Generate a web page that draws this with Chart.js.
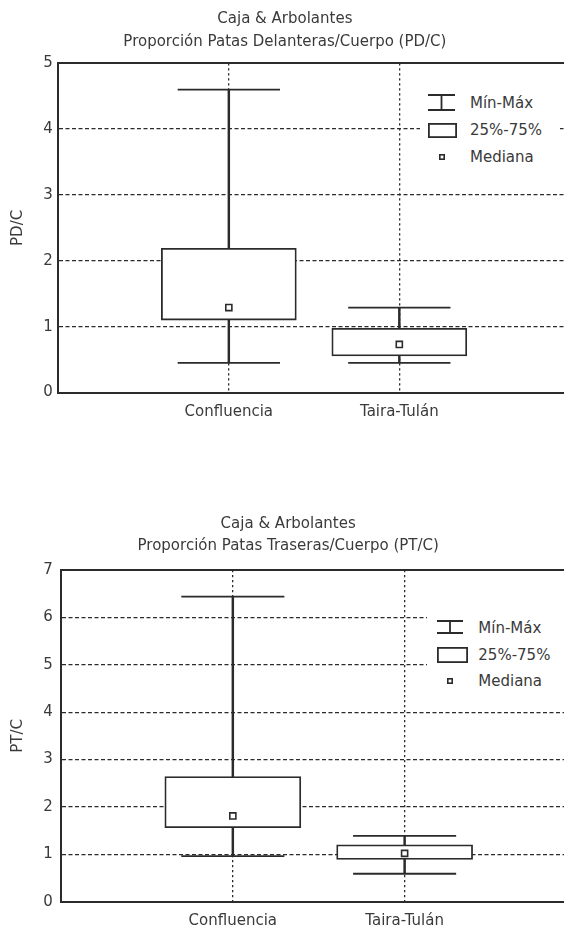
<!DOCTYPE html>
<html>
<head>
<meta charset="utf-8">
<script src="https://cdn.jsdelivr.net/npm/chart.js@4"></script>
<style>
  html, body { margin: 0; padding: 0; background: #fff; }
  body { width: 564px; height: 929px; overflow: hidden; position: relative; font-family: 'DejaVu Sans', sans-serif; color: #3a3a3a; }
  .wrap { position: absolute; left: 0; }
  .legend { position: absolute; background: #fff; }
  .legend .item { position: absolute; font-size: 15px; line-height: 18px; white-space: nowrap; }
  .legend svg { position: absolute; overflow: visible; }
</style>
</head>
<body>

<div class="wrap" style="top:0; width:615px; height:432px;"><canvas id="chartPD"></canvas></div>
<div class="wrap" style="top:495px; width:615px; height:436px;"><canvas id="chartPT"></canvas></div>

<!-- leyenda grafico 1 -->
<div class="legend" style="left:420px; top:86px; width:140px; height:80px;">
  <svg style="left:8px; top:8px;" width="27" height="17"><path d="M0 1H27M0 16H27M13.5 1V16" stroke="#2b2b2b" stroke-width="1.8" fill="none"/></svg>
  <div class="item" style="left:50px; top:8px;">Mín-Máx</div>
  <svg style="left:8px; top:37px;" width="29" height="15"><rect x="0.9" y="0.9" width="27.2" height="13.2" stroke="#2b2b2b" stroke-width="1.8" fill="#fff"/></svg>
  <div class="item" style="left:50px; top:35px;">25%-75%</div>
  <svg style="left:18.7px; top:68px;" width="6" height="6"><rect x="0.8" y="0.8" width="4.4" height="4.4" stroke="#2b2b2b" stroke-width="1.6" fill="#fff"/></svg>
  <div class="item" style="left:50px; top:61.7px;">Mediana</div>
</div>

<!-- leyenda grafico 2 -->
<div class="legend" style="left:427px; top:608px; width:137px; height:86px;">
  <svg style="left:9.7px; top:12px;" width="26" height="14"><path d="M0 1H26M0 13H26M13 1V13" stroke="#2b2b2b" stroke-width="1.8" fill="none"/></svg>
  <div class="item" style="left:51.3px; top:11.3px;">Mín-Máx</div>
  <svg style="left:9.7px; top:39px;" width="31" height="16"><rect x="0.9" y="0.9" width="29.2" height="14.2" stroke="#2b2b2b" stroke-width="1.8" fill="#fff"/></svg>
  <div class="item" style="left:51.3px; top:38px;">25%-75%</div>
  <svg style="left:20px; top:70px;" width="6" height="6"><rect x="0.8" y="0.8" width="4.4" height="4.4" stroke="#2b2b2b" stroke-width="1.6" fill="#fff"/></svg>
  <div class="item" style="left:51.3px; top:63.7px;">Mediana</div>
</div>

<script>
// categorias (eje x)
const categories = ['Confluencia', 'Taira-Tulán'];

// Proporcion Patas Delanteras/Cuerpo (PD/C)
const pdTitle = ['Caja & Arbolantes', 'Proporción Patas Delanteras/Cuerpo (PD/C)'];
const pdMin    = [0.45, 0.45];
const pdQ1     = [1.10, 0.555];
const pdMedian = [1.29, 0.73];
const pdQ3     = [2.19, 0.975];
const pdMax    = [4.60, 1.29];
const pdTicks  = [0, 1, 2, 3, 4, 5];

// Proporcion Patas Traseras/Cuerpo (PT/C)
const ptTitle = ['Caja & Arbolantes', 'Proporción Patas Traseras/Cuerpo (PT/C)'];
const ptMin    = [0.96, 0.59];
const ptQ1     = [1.56, 0.89];
const ptMedian = [1.81, 1.02];
const ptQ3     = [2.64, 1.20];
const ptMax    = [6.44, 1.39];
const ptTicks  = [0, 1, 2, 3, 4, 5, 6, 7];

const INK = '#2b2b2b';
const TEXT = '#3a3a3a';
const CAP_HALF = 0.3;   // medio ancho de los topes, en unidades del eje x

Chart.defaults.font.family = "'DejaVu Sans', sans-serif";
Chart.defaults.font.size = 15;
Chart.defaults.color = TEXT;

function makeBoxChart(canvasId, s) {
  const ctx = document.getElementById(canvasId);
  const yMax = s.ticks[s.ticks.length - 1];
  const xs = categories.map((c, i) => i + 1);

  // topes min/max como segmentos cortos, cortados con null
  const capPoints = [];
  xs.forEach((x, i) => {
    [s.max[i], s.min[i]].forEach(v => {
      capPoints.push({ x: x - CAP_HALF, y: v });
      capPoints.push({ x: x + CAP_HALF, y: v });
      capPoints.push({ x: x, y: null });
    });
  });

  return new Chart(ctx, {
    type: 'bar',
    data: {
      datasets: [
        {
          // linea vertical min-max
          type: 'bar',
          data: xs.map((x, i) => ({ x: x, y: [s.min[i], s.max[i]] })),
          backgroundColor: INK,
          borderWidth: 0,
          barThickness: 1.8,
          grouped: false,
          order: 3
        },
        {
          // caja 25%-75%
          type: 'bar',
          data: xs.map((x, i) => ({ x: x, y: [s.q1[i], s.q3[i]] })),
          backgroundColor: '#ffffff',
          borderColor: INK,
          borderWidth: 1.8,
          borderSkipped: false,
          barThickness: s.boxWidth,
          grouped: false,
          order: 2
        },
        {
          // topes min / max
          type: 'line',
          data: capPoints,
          borderColor: INK,
          borderWidth: 1.8,
          pointRadius: 0,
          spanGaps: false,
          fill: false,
          order: 1
        },
        {
          // mediana
          type: 'scatter',
          data: xs.map((x, i) => ({ x: x, y: s.median[i] })),
          pointStyle: 'rect',
          pointRadius: 4.3,
          pointHoverRadius: 4.3,
          pointBackgroundColor: '#ffffff',
          pointBorderColor: INK,
          pointBorderWidth: 1.6,
          order: 0
        }
      ]
    },
    options: {
      responsive: true,
      maintainAspectRatio: false,
      animation: false,
      events: [],
      layout: { padding: s.padding },
      plugins: {
        legend: { display: false },
        tooltip: { enabled: false },
        title: {
          display: true,
          text: s.title,
          color: TEXT,
          font: { size: 15, weight: 'normal', lineHeight: 1.5 },
          padding: s.titlePadding
        }
      },
      scales: {
        x: {
          type: 'linear',
          min: 0,
          max: 3,
          offset: false,
          afterBuildTicks: (scale) => {
            scale.ticks = xs.map(v => ({ value: v }));
          },
          ticks: {
            callback: (v) => categories[v - 1],
            padding: s.xTickPad,
            maxRotation: 0,
            autoSkip: false
          },
          grid: { color: INK, lineWidth: 1.3, drawTicks: false, offset: false },
          border: { color: INK, width: 2, dash: [2.2, 2.8] }
        },
        xTop: {
          type: 'linear',
          position: 'top',
          min: 0,
          max: 3,
          ticks: { display: false },
          grid: { display: false, drawTicks: false },
          border: { color: INK, width: 2 }
        },
        y: {
          type: 'linear',
          min: 0,
          max: yMax,
          afterBuildTicks: (scale) => {
            scale.ticks = s.ticks.map(v => ({ value: v }));
          },
          ticks: { padding: s.yTickPad },
          title: {
            display: true,
            text: s.yLabel,
            color: TEXT,
            font: { size: 15, lineHeight: 1.2 },
            padding: s.yTitlePad
          },
          grid: {
            color: (c) => (c.tick && (c.tick.value === 0 || c.tick.value === yMax)) ? 'rgba(0,0,0,0)' : INK,
            lineWidth: 1.3,
            drawTicks: false
          },
          border: { color: INK, width: 2, dash: [4, 2.5] }
        }
      }
    }
  });
}

makeBoxChart('chartPD', {
  title: pdTitle, yLabel: 'PD/C', ticks: pdTicks,
  min: pdMin, q1: pdQ1, median: pdMedian, q3: pdQ3, max: pdMax,
  boxWidth: 135,
  padding: { left: 0, top: 0, right: 45.2, bottom: -0.5 },
  titlePadding: { top: 8, bottom: 10.3 },
  xTickPad: 11, yTickPad: 5.6,
  yTitlePad: { top: 9, bottom: 10.6 }
});

makeBoxChart('chartPT', {
  title: ptTitle, yLabel: 'PT/C', ticks: ptTicks,
  min: ptMin, q1: ptQ1, median: ptMedian, q3: ptQ3, max: ptMax,
  boxWidth: 136,
  padding: { left: 0, top: 0, right: 38.6, bottom: -8.7 },
  titlePadding: { top: 17.75, bottom: 12.25 },
  xTickPad: 10, yTickPad: 8.3,
  yTitlePad: { top: 9.3, bottom: 7.6 }
});
</script>
</body>
</html>
